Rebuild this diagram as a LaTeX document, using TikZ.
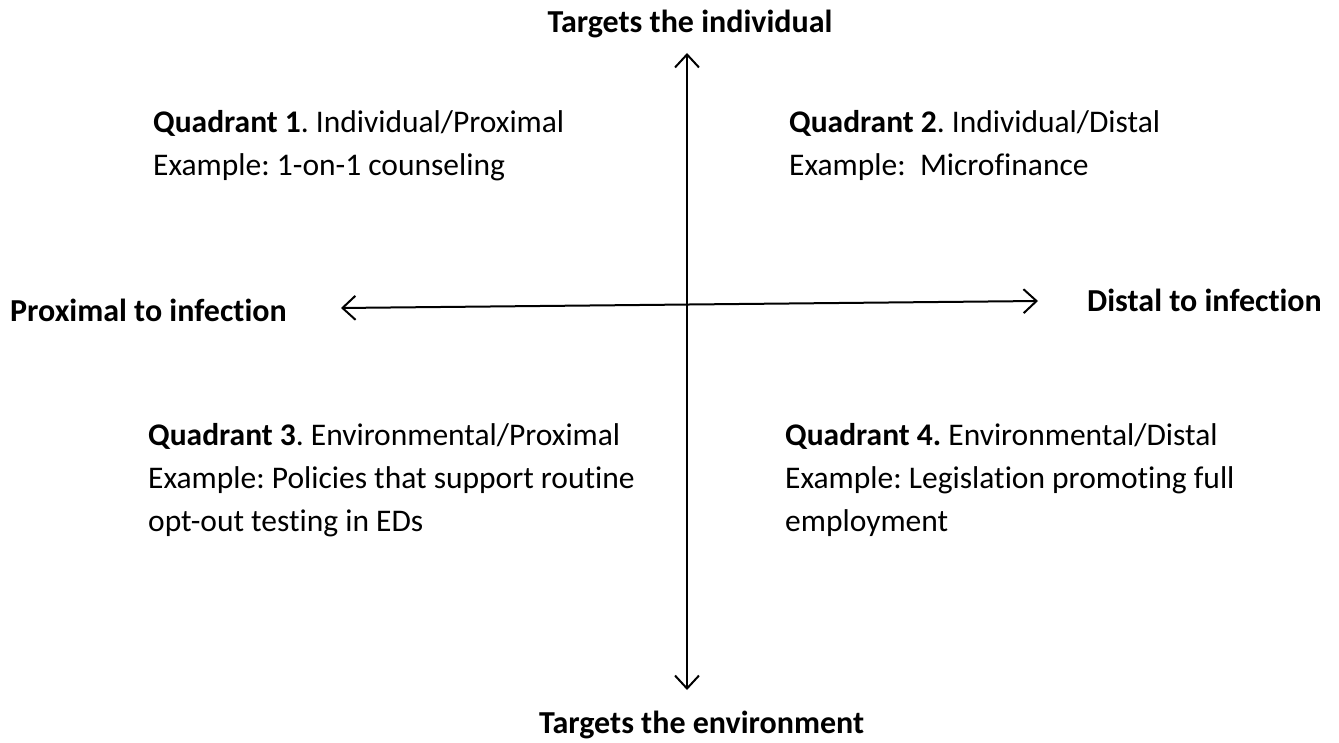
\documentclass[tikz,border=0pt]{standalone}
\usepackage{fontspec}
\setmainfont{Carlito}[Ligatures={NoCommon}]
\usetikzlibrary{arrows.meta}
\frenchspacing

\begin{document}
\begin{tikzpicture}[x=1pt,y=-1pt,
    axis/.style={line width=2pt,{Straight Barb[length=13pt,width=24pt,line width=2pt]}-{Straight Barb[length=13pt,width=24pt,line width=2pt]}},
    pole/.style={font=\fontsize{32}{38}\selectfont\bfseries,inner sep=0},
    quad/.style={font=\fontsize{31.5}{43}\selectfont,align=left,inner sep=0,anchor=north west}]
    \useasboundingbox (0,0) rectangle (1339,743);

    % ends of the two axes
    \coordinate (top) at (687,53);
    \coordinate (bottom) at (687,690);
    \coordinate (left) at (341,308);
    \coordinate (right) at (1038,301);
    \draw[axis] (bottom) -- (top);
    \draw[axis] (left) -- (right);

    % pole labels
    \node[pole,anchor=base] (indiv) at (690,33) {Targets the individual};
    \node[pole,anchor=base west] (envir) at (539,733) {Targets the environment};
    \node[pole,anchor=base west] (prox) at (10,322) {Proximal to infection};
    \node[pole,anchor=base west] (dist) at (1087,312) {Distal to infection};

    % the four quadrants
    \node[quad] (q1) at (153,110) {\textbf{Quadrant 1}. Individual/Proximal\\Example: 1-on-1 counseling};
    \node[quad] (q2) at (789,110) {\textbf{Quadrant 2}. Individual/Distal\\Example:\ \ Microfinance};
    \node[quad] (q3) at (148,423) {\textbf{Quadrant 3}. Environmental/Proximal\\Example: Policies that support routine\\opt-out testing in EDs};
    \node[quad] (q4) at (785,423) {\textbf{Quadrant 4.} Environmental/Distal\\Example: Legislation promoting full\\employment};
\end{tikzpicture}
\end{document}
